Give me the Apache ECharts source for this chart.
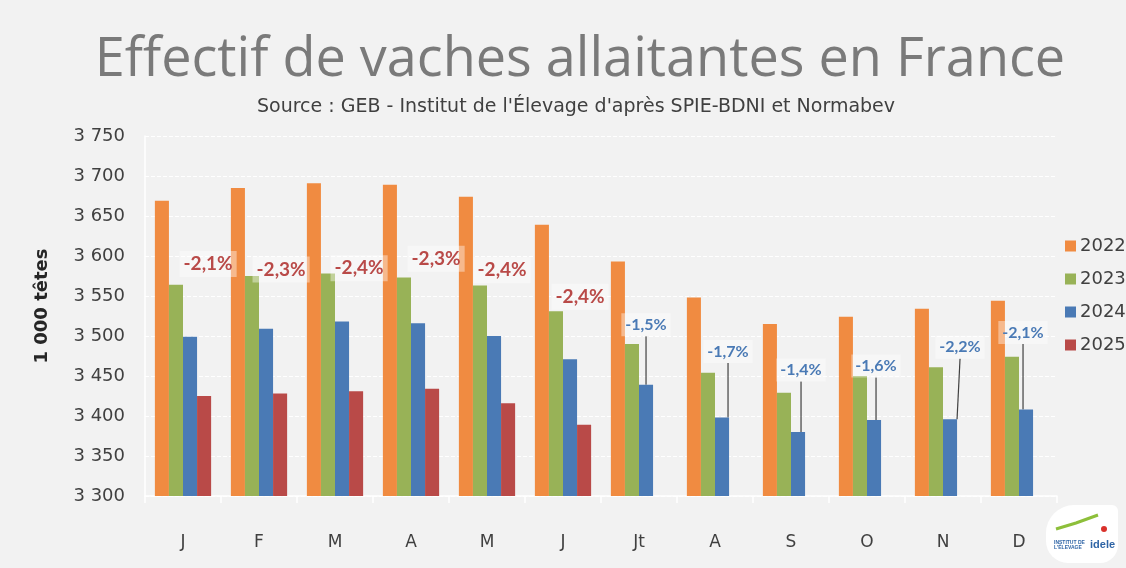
<!DOCTYPE html>
<html>
<head>
<meta charset="utf-8">
<title>Effectif de vaches allaitantes en France</title>
<script src="https://cdn.jsdelivr.net/npm/echarts@6/dist/echarts.min.js"></script>
<style>
  html, body { margin: 0; padding: 0; background: #f2f2f2; }
  #chart { width: 1126px; height: 568px; }
</style>
</head>
<body>
<div id="chart"></div>
<script>
// données (1 000 têtes)
const months = ["J", "F", "M", "A", "M", "J", "Jt", "A", "S", "O", "N", "D"];
const years = ["2022", "2023", "2024", "2025"];
const v2022 = [3669, 3685, 3691, 3689, 3674, 3639, 3593, 3548, 3515, 3524, 3534, 3544];
const v2023 = [3564, 3575, 3578, 3573, 3563, 3531, 3490, 3454, 3429, 3450, 3461, 3474];
const v2024 = [3499, 3509, 3518, 3516, 3500, 3471, 3439, 3398, 3380, 3395, 3396, 3408];
const v2025 = [3425, 3428, 3431, 3434, 3416, 3389, null, null, null, null, null, null];
const yTicks = { min: 3300, max: 3750, step: 50 };

// évolutions affichées
const evol2025 = ["-2,1%", "-2,3%", "-2,4%", "-2,3%", "-2,4%", "-2,4%", "", "", "", "", "", ""];
const evol2024 = ["", "", "", "", "", "", "-1,5%", "-1,7%", "-1,4%", "-1,6%", "-2,2%", "-2,1%"];

// décalage des étiquettes par rapport au haut de la barre [dx, dy]
const offs2025 = [[4, -132], [1, -124], [3, -123], [4, -130], [-6, -133], [-4, -128]];
const offs2024 = { 6: [0, -60], 7: [6, -66], 8: [3, -62], 9: [2, -54], 10: [10, -72], 11: [-3, -77] };

const colors = ["#f08b41", "#98b257", "#4a7ab5", "#b94a48"];
const txtFont = "Lato";
const axisFont = "DejaVu Sans";

let myChart = echarts.init(document.getElementById("chart"));

function labelPos(offs) {
  return function (params) {
    const o = offs[params.dataIndex];
    if (!o) return {};
    return {
      x: params.rect.x + params.rect.width / 2 + o[0],
      y: params.rect.y + o[1],
      align: "center",
      verticalAlign: "middle"
    };
  };
}

// pas d'étiquette ni de trait quand il n'y a pas de texte
function withLabels(values, texts) {
  return values.map((v, i) =>
    texts[i] ? v : { value: v, label: { show: false }, labelLine: { show: false } }
  );
}

let option = {
  backgroundColor: "#f2f2f2",
  color: colors,
  animation: false,
  title: [
    {
      text: "Effectif de vaches allaitantes en France",
      left: 575,
      top: 29,
      textAlign: "center",
      textStyle: { fontFamily: "Open Sans", fontSize: 54, fontWeight: "normal", color: "#7a7a7a" }
    },
    {
      text: "Source : GEB - Institut de l'Élevage d'après SPIE-BDNI et Normabev",
      left: 571,
      top: 93,
      textAlign: "center",
      textStyle: { fontFamily: axisFont, fontSize: 19, fontWeight: "normal", color: "#404040" }
    }
  ],
  legend: {
    orient: "vertical",
    left: 1060,
    top: 231,
    itemWidth: 11,
    itemHeight: 11,
    itemGap: 13,
    icon: "rect",
    textStyle: { fontFamily: axisFont, fontSize: 18, color: "#404040", lineHeight: 20, padding: [0, 0, 0, -1] },
    data: years
  },
  grid: { left: 145, right: 69, top: 136, bottom: 72 },
  xAxis: {
    type: "category",
    data: months,
    axisLine: { lineStyle: { color: "#ffffff", width: 1.5 } },
    axisTick: { show: true, length: 7, lineStyle: { color: "#ffffff", width: 1.5 } },
    axisLabel: { fontFamily: axisFont, fontSize: 17, color: "#404040", margin: 38 }
  },
  yAxis: {
    type: "value",
    min: yTicks.min,
    max: yTicks.max,
    interval: yTicks.step,
    name: "1 000 têtes",
    nameLocation: "middle",
    nameRotate: 90,
    nameGap: 94,
    nameTextStyle: { fontFamily: axisFont, fontSize: 18, fontWeight: "bold", color: "#262626", padding: [0, 0, 0, 20] },
    axisLine: { show: true, lineStyle: { color: "#ffffff", width: 1.5 } },
    axisTick: { show: false },
    axisLabel: {
      fontFamily: axisFont,
      fontSize: 18,
      color: "#404040",
      margin: 20,
      formatter: (v) => String(v).replace(/\B(?=(\d{3})+(?!\d))/g, " ")
    },
    splitLine: { lineStyle: { color: "#ffffff", type: [4, 2], width: 1 } }
  },
  series: [
    { name: "2022", type: "bar", data: v2022, barGap: "0%", barCategoryGap: "26%" },
    { name: "2023", type: "bar", data: v2023, barGap: "0%", barCategoryGap: "26%" },
    {
      name: "2024",
      type: "bar",
      data: withLabels(v2024, evol2024),
      barGap: "0%",
      barCategoryGap: "26%",
      label: {
        show: true,
        position: "top",
        formatter: (p) => evol2024[p.dataIndex],
        fontFamily: txtFont,
        fontSize: 16,
        fontWeight: "bold",
        color: "#4a7ab5",
        backgroundColor: "rgba(255,255,255,0.4)",
        padding: [4, 4, 3, 4]
      },
      labelLine: { show: true, lineStyle: { color: "#404040", width: 1.2 } },
      labelLayout: labelPos(offs2024)
    },
    {
      name: "2025",
      type: "bar",
      data: v2025,
      barGap: "0%",
      barCategoryGap: "26%",
      label: {
        show: true,
        position: "top",
        formatter: (p) => evol2025[p.dataIndex],
        fontFamily: txtFont,
        fontSize: 19,
        fontWeight: "bold",
        color: "#b94a48",
        backgroundColor: "rgba(255,255,255,0.4)",
        padding: [4, 4, 3, 4]
      },
      labelLayout: labelPos(offs2025)
    }
  ],
  graphic: [
    {
      type: "group",
      left: 1046,
      top: 505,
      children: [
        { type: "rect", shape: { x: 0, y: 0, width: 72, height: 58, r: [28, 6, 18, 22] }, style: { fill: "#ffffff" } },
        { type: "text", style: { x: 44, y: 34, text: "idele", fill: "#2e64a6", font: "bold 11px Liberation Sans" } },
        { type: "text", style: { x: 8, y: 35, text: "INSTITUT DE\nL'ÉLEVAGE", fill: "#2e64a6", font: "bold 5px Liberation Sans" } },
        { type: "polyline", shape: { points: [[10, 24], [30, 18], [52, 10]] }, style: { stroke: "#8dbf3a", lineWidth: 3, fill: null } },
        { type: "circle", shape: { cx: 58, cy: 24, r: 3 }, style: { fill: "#d9312b" } }
      ]
    }
  ]
};

option && myChart.setOption(option);
window.addEventListener("resize", function () {
  myChart.resize();
});
</script>
</body>
</html>
